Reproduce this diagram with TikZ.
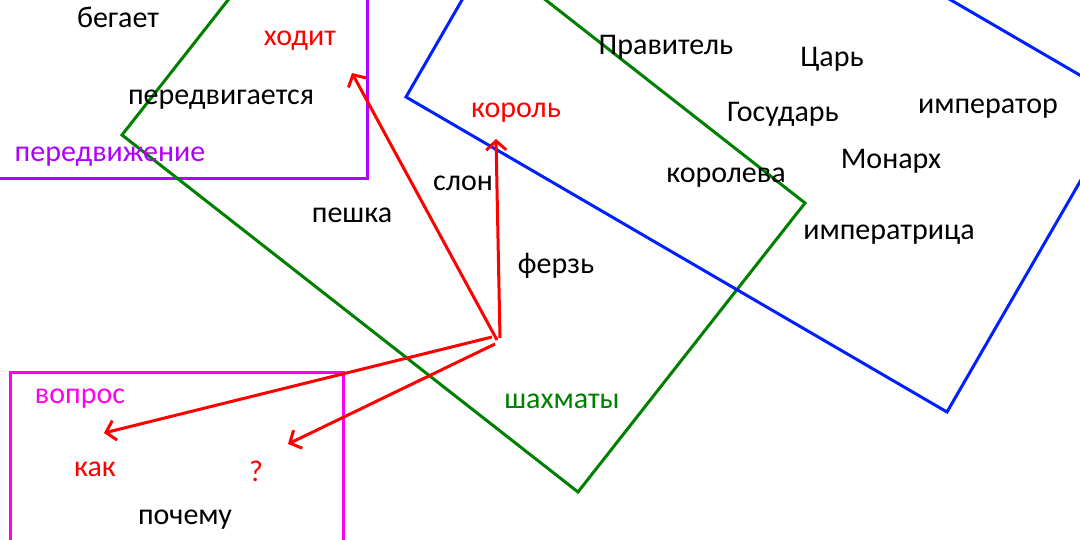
\documentclass[tikz,border=0pt]{standalone}
\usepackage{fontspec}
\setmainfont{Carlito}
\usetikzlibrary{
  arrows.meta
}
\definecolor{chessgreen}{RGB}{0,128,0}
\definecolor{rulerblue}{RGB}{0,32,255}
\definecolor{movepurple}{RGB}{176,0,255}
\definecolor{askmagenta}{RGB}{255,0,240}

\begin{document}
\begin{tikzpicture}[
  x=1pt, y=-1pt,
  line width=3pt,
  word/.style={inner sep=0pt, yshift=-3pt, font=\fontsize{30}{33}\selectfont},
  link/.style={red, -{Straight Barb[length=9pt,width=20pt,line width=3pt]}},
]
\useasboundingbox (0,0) rectangle (1080,540);
\clip (0,0) rectangle (1080,540);
% frames
\draw[movepurple] (-10,179) -- (367,179) -- (367,-10);
\draw[askmagenta] (10,560) -- (10,372) -- (343,372) -- (343,560);
\draw[chessgreen] (122,135) -- (349,-154) -- (805,203) -- (578,492) -- cycle;
\draw[rulerblue] (406,97) -- (585,-213) -- (1126,102) -- (947,412) -- cycle;
% words
\node[word] (begaet) at (118,14) {бегает};
\node[word, red] (hodit) at (300,38) {ходит};
\node[word] (peredvig) at (221,97) {передвигается};
\node[word, movepurple] (peredvizh) at (110,154) {передвижение};
\node[word] (peshka) at (352,212) {пешка};
\node[word] (slon) at (463,180) {слон};
\node[word, red] (korol) at (516,110) {король};
\node[word] (ferz) at (556,263) {ферзь};
\node[word] (pravitel) at (666,44) {Правитель};
\node[word] (tsar) at (832,56) {Царь};
\node[word] (gosudar) at (783,111) {Государь};
\node[word] (imperator) at (988,106) {император};
\node[word] (monarh) at (891,158) {Монарх};
\node[word] (koroleva) at (726,175) {королева};
\node[word] (imperatrica) at (889,232) {императрица};
\node[word, chessgreen] (shahmaty) at (562,398) {шахматы};
\node[word, askmagenta] (vopros) at (80,396) {вопрос};
\node[word, red] (kak) at (95,466) {как};
\node[word, red] (quest) at (256,468) {?};
\node[word] (pochemu) at (185,517) {почему};
% arrows
\coordinate (fromhodit) at (497,340);
\coordinate (fromkorol) at (500,338);
\coordinate (fromkak) at (492,337);
\coordinate (fromquest) at (495,344);
\coordinate (tohodit) at (352,73);
\coordinate (tokorol) at (496,139);
\coordinate (tokak) at (104,433);
\coordinate (toquest) at (288,444);
\draw[link] (fromhodit) -- (tohodit);
\draw[link] (fromkorol) -- (tokorol);
\draw[link] (fromkak) -- (tokak);
\draw[link] (fromquest) -- (toquest);
\end{tikzpicture}
\end{document}
